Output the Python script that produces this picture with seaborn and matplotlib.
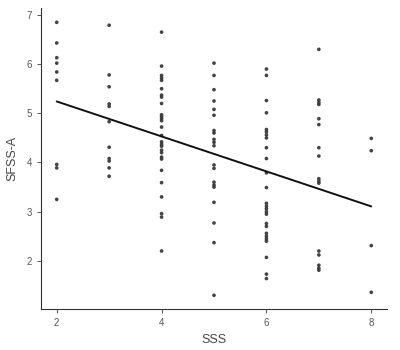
import numpy as np
import pandas as pd
import matplotlib
matplotlib.use("Agg")
import matplotlib.pyplot as plt
import seaborn as sns

sss_2 = [6.85, 6.43, 6.13, 6.02, 5.84, 5.67, 3.96, 3.89, 3.25]
sss_3 = [6.79, 5.78, 5.54, 5.19, 5.14, 4.83, 4.31, 4.08, 4.03, 3.89, 3.72]
sss_4 = [6.65, 5.96, 5.77, 5.72, 5.67, 5.50, 5.37, 5.33, 5.20, 4.97, 4.93, 4.89,
         4.85, 4.72, 4.55, 4.42, 4.37, 4.33, 4.25, 4.20, 4.11, 4.07, 3.84, 3.59,
         3.30, 2.96, 2.89, 2.20]
sss_5 = [6.02, 5.77, 5.48, 5.25, 5.08, 4.96, 4.65, 4.60, 4.47, 4.41, 4.34, 3.95,
         3.88, 3.60, 3.54, 3.50, 3.19, 2.77, 2.37, 1.30]
sss_6 = [5.90, 5.77, 5.26, 5.01, 4.67, 4.62, 4.56, 4.50, 4.30, 4.08, 3.79, 3.49,
         3.17, 3.11, 3.06, 3.00, 2.95, 2.76, 2.70, 2.56, 2.50, 2.45, 2.40, 2.07,
         1.73, 1.64]
sss_7 = [6.30, 5.27, 5.22, 5.18, 4.89, 4.77, 4.30, 4.13, 3.67, 3.62, 3.58, 2.20,
         2.12, 1.91, 1.85, 1.81]
sss_8 = [4.49, 4.24, 2.31, 1.36]

groups = {2: sss_2, 3: sss_3, 4: sss_4, 5: sss_5, 6: sss_6, 7: sss_7, 8: sss_8}
x_ticks = [2, 4, 6, 8]
y_ticks = [2, 3, 4, 5, 6, 7]

rows = [(k, v) for k, vals in groups.items() for v in vals]
df = pd.DataFrame(rows, columns=["SSS", "SFSS-A"])

sns.set_style("ticks")
plt.rcParams["font.family"] = ["Liberation Sans", "DejaVu Sans"]

fig = plt.figure(figsize=(4, 3.5), dpi=100)
ax = fig.add_axes([0.1025, 0.117, 0.865, 0.86])

sns.regplot(data=df, x="SSS", y="SFSS-A", ax=ax, ci=None,
            scatter_kws=dict(s=7, color="#3a3a3a", edgecolor="none", alpha=0.95),
            line_kws=dict(color="#111111", linewidth=1.4))

ax.set_xlim(1.7, 8.3)
ax.set_ylim(1.02, 7.14)
ax.set_xticks(x_ticks)
ax.set_yticks(y_ticks)
sns.despine(ax=ax)
for s in ["left", "bottom"]:
    ax.spines[s].set_color("#333333")
    ax.spines[s].set_linewidth(0.8)
ax.tick_params(axis="both", colors="#555555", labelsize=7, length=3, width=0.7)
ax.tick_params(axis="both", labelcolor="#555555")
ax.set_xlabel("SSS", fontsize=9, color="#444444", labelpad=4)
ax.set_ylabel("SFSS-A", fontsize=9, color="#444444", labelpad=6)

fig.savefig("out.png", dpi=100)
